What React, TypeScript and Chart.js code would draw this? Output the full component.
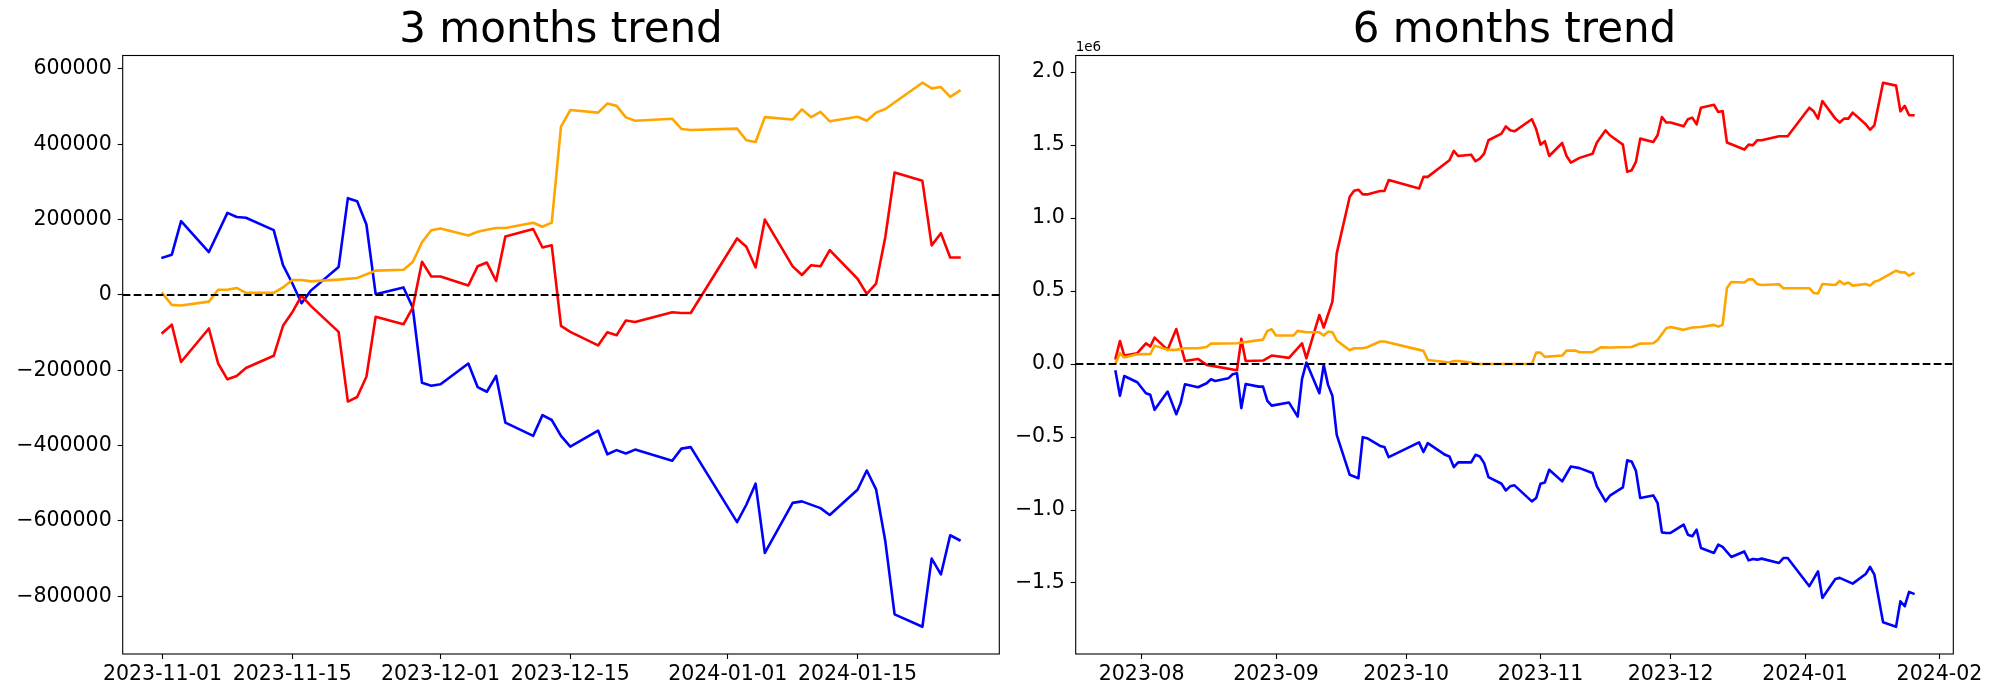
import React, { useEffect, useRef } from "react";
import { Chart, registerables } from "chart.js";

Chart.register(...registerables);

const FONT = "'DejaVu Sans', 'Liberation Sans', sans-serif";

// ---------- text / ticks ----------
const leftTitle = "3 months trend";
const rightTitle = "6 months trend";
const leftXTicks = ["2023-11-01", "2023-11-15", "2023-12-01", "2023-12-15", "2024-01-01", "2024-01-15"];
const leftYTicks = [-800000, -600000, -400000, -200000, 0, 200000, 400000, 600000];
const rightXTicks = ["2023-08", "2023-09", "2023-10", "2023-11", "2023-12", "2024-01", "2024-02"];
const rightYTicks = [-1.5, -1.0, -0.5, 0.0, 0.5, 1.0, 1.5, 2.0];
const rightOffsetLabel = "1e6";

// ---------- 3 months series ----------
const blue3m: [string, number][] = [
  ["2023-11-01", 99000], ["2023-11-02", 107000], ["2023-11-03", 196000], ["2023-11-06", 114000],
  ["2023-11-08", 218000], ["2023-11-09", 207000], ["2023-11-10", 205000], ["2023-11-13", 172000],
  ["2023-11-14", 79000], ["2023-11-15", 31000], ["2023-11-16", -22000], ["2023-11-17", 11500],
  ["2023-11-20", 74000], ["2023-11-21", 257000], ["2023-11-22", 249000], ["2023-11-23", 187000],
  ["2023-11-24", 2000], ["2023-11-27", 20000], ["2023-11-28", -33500], ["2023-11-29", -233000],
  ["2023-11-30", -241000], ["2023-12-01", -237000], ["2023-12-04", -182000], ["2023-12-05", -244500],
  ["2023-12-06", -257000], ["2023-12-07", -215000], ["2023-12-08", -339000], ["2023-12-11", -374000],
  ["2023-12-12", -319000], ["2023-12-13", -332000], ["2023-12-14", -374000], ["2023-12-15", -402500],
  ["2023-12-18", -360000], ["2023-12-19", -423000], ["2023-12-20", -412000], ["2023-12-21", -421000],
  ["2023-12-22", -410500], ["2023-12-26", -440000], ["2023-12-27", -408000], ["2023-12-28", -404000],
  ["2024-01-02", -603000], ["2024-01-03", -557000], ["2024-01-04", -501000], ["2024-01-05", -685000],
  ["2024-01-08", -552000], ["2024-01-09", -548000], ["2024-01-11", -566000], ["2024-01-12", -584000],
  ["2024-01-15", -517000], ["2024-01-16", -466000], ["2024-01-17", -516000], ["2024-01-18", -654000],
  ["2024-01-19", -848000], ["2024-01-22", -881000], ["2024-01-23", -700000], ["2024-01-24", -742000],
  ["2024-01-25", -638000], ["2024-01-26", -651000],
];

const red3m: [string, number][] = [
  ["2023-11-01", -100600], ["2023-11-02", -79000], ["2023-11-03", -178000], ["2023-11-06", -89000],
  ["2023-11-07", -182000], ["2023-11-08", -224000], ["2023-11-09", -215000], ["2023-11-10", -194000],
  ["2023-11-13", -161500], ["2023-11-14", -82000], ["2023-11-15", -46000], ["2023-11-16", -2000],
  ["2023-11-17", -29000], ["2023-11-20", -98000], ["2023-11-21", -283000], ["2023-11-22", -271000],
  ["2023-11-23", -217000], ["2023-11-24", -58000], ["2023-11-27", -77800], ["2023-11-28", -33500],
  ["2023-11-29", 88000], ["2023-11-30", 49000], ["2023-12-01", 49000], ["2023-12-04", 25000],
  ["2023-12-05", 76000], ["2023-12-06", 86000], ["2023-12-07", 37000], ["2023-12-08", 155500],
  ["2023-12-11", 175000], ["2023-12-12", 126000], ["2023-12-13", 132000], ["2023-12-14", -82000],
  ["2023-12-15", -98000], ["2023-12-18", -134000], ["2023-12-19", -99000], ["2023-12-20", -107000],
  ["2023-12-21", -68000], ["2023-12-22", -71600], ["2023-12-26", -46000], ["2023-12-27", -47800],
  ["2023-12-28", -47800], ["2024-01-02", 150000], ["2024-01-03", 128000], ["2024-01-04", 73000],
  ["2024-01-05", 200000], ["2024-01-08", 76000], ["2024-01-09", 53000], ["2024-01-10", 79000],
  ["2024-01-11", 76000], ["2024-01-12", 119000], ["2024-01-15", 43000], ["2024-01-16", 2700],
  ["2024-01-17", 30000], ["2024-01-18", 154000], ["2024-01-19", 325000], ["2024-01-22", 303000],
  ["2024-01-23", 131600], ["2024-01-24", 164000], ["2024-01-25", 99600], ["2024-01-26", 99600],
];

const orange3m: [string, number][] = [
  ["2023-11-01", 4000], ["2023-11-02", -26400], ["2023-11-03", -28000], ["2023-11-06", -17700],
  ["2023-11-07", 14000], ["2023-11-08", 14000], ["2023-11-09", 18600], ["2023-11-10", 5400],
  ["2023-11-13", 5400], ["2023-11-14", 20000], ["2023-11-15", 39600], ["2023-11-16", 39600],
  ["2023-11-17", 36000], ["2023-11-20", 40700], ["2023-11-22", 45000], ["2023-11-24", 64700],
  ["2023-11-27", 67000], ["2023-11-28", 87500], ["2023-11-29", 140000], ["2023-11-30", 172000],
  ["2023-12-01", 176600], ["2023-12-04", 158000], ["2023-12-05", 168000], ["2023-12-06", 173000],
  ["2023-12-07", 177600], ["2023-12-08", 177600], ["2023-12-11", 191700], ["2023-12-12", 181000],
  ["2023-12-13", 192000], ["2023-12-14", 447000], ["2023-12-15", 491000], ["2023-12-18", 484000],
  ["2023-12-19", 508000], ["2023-12-20", 502000], ["2023-12-21", 471500], ["2023-12-22", 462600],
  ["2023-12-26", 468000], ["2023-12-27", 440600], ["2023-12-28", 438000], ["2024-01-02", 441500],
  ["2024-01-03", 410600], ["2024-01-04", 406000], ["2024-01-05", 472000], ["2024-01-08", 466000],
  ["2024-01-09", 492700], ["2024-01-10", 472000], ["2024-01-11", 486000], ["2024-01-12", 461000],
  ["2024-01-15", 473000], ["2024-01-16", 462600], ["2024-01-17", 484000], ["2024-01-18", 493600],
  ["2024-01-22", 563500], ["2024-01-23", 548500], ["2024-01-24", 552000], ["2024-01-25", 526000],
  ["2024-01-26", 542000],
];

// ---------- 6 months series (values in units of 1e6) ----------
const red6m: [string, number][] = [
  ["2023-07-26", 0.039], ["2023-07-27", 0.158], ["2023-07-28", 0.058], ["2023-07-31", 0.074],
  ["2023-08-02", 0.142], ["2023-08-03", 0.12], ["2023-08-04", 0.181], ["2023-08-07", 0.097],
  ["2023-08-09", 0.24], ["2023-08-11", 0.021], ["2023-08-14", 0.035], ["2023-08-16", -0.006],
  ["2023-08-23", -0.043], ["2023-08-24", 0.172], ["2023-08-25", 0.021], ["2023-08-29", 0.024],
  ["2023-08-31", 0.058], ["2023-09-04", 0.042], ["2023-09-07", 0.142], ["2023-09-08", 0.039],
  ["2023-09-11", 0.336], ["2023-09-12", 0.25], ["2023-09-14", 0.427], ["2023-09-15", 0.758],
  ["2023-09-18", 1.146], ["2023-09-19", 1.187], ["2023-09-20", 1.194], ["2023-09-21", 1.162],
  ["2023-09-22", 1.162], ["2023-09-25", 1.185], ["2023-09-26", 1.185], ["2023-09-27", 1.26],
  ["2023-10-04", 1.202], ["2023-10-05", 1.282], ["2023-10-06", 1.282], ["2023-10-11", 1.396],
  ["2023-10-12", 1.46], ["2023-10-13", 1.425], ["2023-10-16", 1.434], ["2023-10-17", 1.389],
  ["2023-10-18", 1.407], ["2023-10-19", 1.441], ["2023-10-20", 1.533], ["2023-10-23", 1.578],
  ["2023-10-24", 1.628], ["2023-10-25", 1.601], ["2023-10-26", 1.594], ["2023-10-30", 1.677],
  ["2023-10-31", 1.609], ["2023-11-01", 1.503], ["2023-11-02", 1.526], ["2023-11-03", 1.425],
  ["2023-11-06", 1.514], ["2023-11-07", 1.425], ["2023-11-08", 1.38], ["2023-11-10", 1.412],
  ["2023-11-13", 1.441], ["2023-11-14", 1.517], ["2023-11-16", 1.601], ["2023-11-17", 1.567],
  ["2023-11-20", 1.503], ["2023-11-21", 1.316], ["2023-11-22", 1.327], ["2023-11-23", 1.384],
  ["2023-11-24", 1.544], ["2023-11-27", 1.521], ["2023-11-28", 1.567], ["2023-11-29", 1.692],
  ["2023-11-30", 1.654], ["2023-12-01", 1.654], ["2023-12-04", 1.628], ["2023-12-05", 1.677],
  ["2023-12-06", 1.688], ["2023-12-07", 1.642], ["2023-12-08", 1.756], ["2023-12-11", 1.776],
  ["2023-12-12", 1.726], ["2023-12-13", 1.733], ["2023-12-14", 1.517], ["2023-12-18", 1.469],
  ["2023-12-19", 1.503], ["2023-12-20", 1.499], ["2023-12-21", 1.533], ["2023-12-22", 1.533],
  ["2023-12-26", 1.56], ["2023-12-28", 1.56], ["2024-01-02", 1.756], ["2024-01-03", 1.731],
  ["2024-01-04", 1.681], ["2024-01-05", 1.802], ["2024-01-08", 1.681], ["2024-01-09", 1.654],
  ["2024-01-10", 1.681], ["2024-01-11", 1.681], ["2024-01-12", 1.722], ["2024-01-15", 1.642],
  ["2024-01-16", 1.605], ["2024-01-17", 1.635], ["2024-01-19", 1.927], ["2024-01-22", 1.907],
  ["2024-01-23", 1.731], ["2024-01-24", 1.768], ["2024-01-25", 1.704], ["2024-01-26", 1.704],
];

const orange6m: [string, number][] = [
  ["2023-07-26", 0.005], ["2023-07-27", 0.074], ["2023-07-28", 0.044], ["2023-07-31", 0.067],
  ["2023-08-02", 0.069], ["2023-08-03", 0.067], ["2023-08-04", 0.126], ["2023-08-07", 0.097],
  ["2023-08-09", 0.097], ["2023-08-11", 0.108], ["2023-08-14", 0.108], ["2023-08-16", 0.117],
  ["2023-08-17", 0.14], ["2023-08-23", 0.142], ["2023-08-29", 0.167], ["2023-08-30", 0.227],
  ["2023-08-31", 0.238], ["2023-09-01", 0.195], ["2023-09-05", 0.195], ["2023-09-06", 0.227],
  ["2023-09-08", 0.218], ["2023-09-11", 0.218], ["2023-09-12", 0.195], ["2023-09-13", 0.222],
  ["2023-09-14", 0.218], ["2023-09-15", 0.161], ["2023-09-18", 0.094], ["2023-09-19", 0.108],
  ["2023-09-21", 0.108], ["2023-09-22", 0.115], ["2023-09-25", 0.154], ["2023-09-26", 0.154],
  ["2023-10-05", 0.09], ["2023-10-06", 0.028], ["2023-10-11", 0.01], ["2023-10-12", 0.021],
  ["2023-10-13", 0.021], ["2023-10-16", 0.01], ["2023-10-17", 0.0], ["2023-10-30", 0.0],
  ["2023-10-31", 0.078], ["2023-11-01", 0.078], ["2023-11-02", 0.049], ["2023-11-06", 0.058],
  ["2023-11-07", 0.092], ["2023-11-09", 0.092], ["2023-11-10", 0.081], ["2023-11-13", 0.081],
  ["2023-11-15", 0.115], ["2023-11-17", 0.113], ["2023-11-22", 0.117], ["2023-11-24", 0.14],
  ["2023-11-27", 0.142], ["2023-11-28", 0.165], ["2023-11-30", 0.245], ["2023-12-01", 0.254],
  ["2023-12-04", 0.234], ["2023-12-06", 0.25], ["2023-12-08", 0.254], ["2023-12-11", 0.268],
  ["2023-12-12", 0.256], ["2023-12-13", 0.268], ["2023-12-14", 0.521], ["2023-12-15", 0.562],
  ["2023-12-18", 0.558], ["2023-12-19", 0.581], ["2023-12-20", 0.58], ["2023-12-21", 0.548],
  ["2023-12-22", 0.541], ["2023-12-26", 0.546], ["2023-12-27", 0.519], ["2024-01-02", 0.519],
  ["2024-01-03", 0.487], ["2024-01-04", 0.483], ["2024-01-05", 0.548], ["2024-01-08", 0.541],
  ["2024-01-09", 0.569], ["2024-01-10", 0.546], ["2024-01-11", 0.558], ["2024-01-12", 0.537],
  ["2024-01-15", 0.548], ["2024-01-16", 0.537], ["2024-01-17", 0.564], ["2024-01-18", 0.573],
  ["2024-01-22", 0.639], ["2024-01-23", 0.628], ["2024-01-24", 0.628], ["2024-01-25", 0.605],
  ["2024-01-26", 0.621],
];

const blue6m: [string, number][] = [
  ["2023-07-26", -0.052], ["2023-07-27", -0.218], ["2023-07-28", -0.082], ["2023-07-31", -0.125],
  ["2023-08-02", -0.2], ["2023-08-03", -0.211], ["2023-08-04", -0.314], ["2023-08-07", -0.189],
  ["2023-08-09", -0.344], ["2023-08-10", -0.268], ["2023-08-11", -0.139], ["2023-08-14", -0.159],
  ["2023-08-16", -0.132], ["2023-08-17", -0.104], ["2023-08-18", -0.116], ["2023-08-21", -0.098],
  ["2023-08-22", -0.07], ["2023-08-23", -0.063], ["2023-08-24", -0.302], ["2023-08-25", -0.137],
  ["2023-08-28", -0.155], ["2023-08-29", -0.155], ["2023-08-30", -0.253], ["2023-08-31", -0.285],
  ["2023-09-04", -0.264], ["2023-09-06", -0.36], ["2023-09-07", -0.102], ["2023-09-08", 0.01],
  ["2023-09-11", -0.2], ["2023-09-12", -0.006], ["2023-09-13", -0.143], ["2023-09-14", -0.218],
  ["2023-09-15", -0.485], ["2023-09-18", -0.759], ["2023-09-20", -0.782], ["2023-09-21", -0.501],
  ["2023-09-22", -0.508], ["2023-09-25", -0.561], ["2023-09-26", -0.569], ["2023-09-27", -0.638],
  ["2023-10-04", -0.537], ["2023-10-05", -0.603], ["2023-10-06", -0.542], ["2023-10-10", -0.622],
  ["2023-10-11", -0.633], ["2023-10-12", -0.706], ["2023-10-13", -0.674], ["2023-10-16", -0.674],
  ["2023-10-17", -0.622], ["2023-10-18", -0.633], ["2023-10-19", -0.679], ["2023-10-20", -0.775],
  ["2023-10-23", -0.82], ["2023-10-24", -0.866], ["2023-10-25", -0.838], ["2023-10-26", -0.831],
  ["2023-10-30", -0.941], ["2023-10-31", -0.918], ["2023-11-01", -0.82], ["2023-11-02", -0.811],
  ["2023-11-03", -0.724], ["2023-11-06", -0.804], ["2023-11-08", -0.702], ["2023-11-10", -0.713],
  ["2023-11-13", -0.747], ["2023-11-14", -0.838], ["2023-11-16", -0.941], ["2023-11-17", -0.902],
  ["2023-11-20", -0.845], ["2023-11-21", -0.66], ["2023-11-22", -0.667], ["2023-11-23", -0.731],
  ["2023-11-24", -0.918], ["2023-11-27", -0.9], ["2023-11-28", -0.952], ["2023-11-29", -1.153],
  ["2023-11-30", -1.157], ["2023-12-01", -1.157], ["2023-12-04", -1.1], ["2023-12-05", -1.169],
  ["2023-12-06", -1.18], ["2023-12-07", -1.135], ["2023-12-08", -1.26], ["2023-12-11", -1.294],
  ["2023-12-12", -1.237], ["2023-12-13", -1.253], ["2023-12-15", -1.322], ["2023-12-18", -1.284],
  ["2023-12-19", -1.345], ["2023-12-20", -1.335], ["2023-12-21", -1.34], ["2023-12-22", -1.333],
  ["2023-12-26", -1.363], ["2023-12-27", -1.329], ["2023-12-28", -1.329], ["2024-01-02", -1.522],
  ["2024-01-04", -1.42], ["2024-01-05", -1.602], ["2024-01-08", -1.472], ["2024-01-09", -1.465],
  ["2024-01-12", -1.504], ["2024-01-15", -1.438], ["2024-01-16", -1.39], ["2024-01-17", -1.443],
  ["2024-01-19", -1.769], ["2024-01-22", -1.8], ["2024-01-23", -1.625], ["2024-01-24", -1.659],
  ["2024-01-25", -1.561], ["2024-01-26", -1.573],
];

const BLUE = "#0000ff";
const RED = "#ff0000";
const ORANGE = "#ffa500";

// ---------- helpers ----------
const dayNum = (s: string): number => {
  const p = s.split("-").map(Number);
  return Date.UTC(p[0], (p[1] || 1) - 1, p[2] || 1) / 86400000;
};

const withMargins = (vals: number[]): [number, number] => {
  const lo = Math.min(...vals);
  const hi = Math.max(...vals);
  const m = (hi - lo) * 0.05;
  return [lo - m, hi + m];
};

const minusify = (s: string) => s.replace("-", "\u2212");

type SeriesDef = { points: [string, number][]; color: string; order: number };

type PanelProps = {
  left: number;
  width: number;
  yAxisWidth: number;
  padRight: number;
  title: string;
  series: SeriesDef[];
  xTicks: string[];
  yTicks: number[];
  yFormat: (v: number) => string;
  offsetLabel?: string;
};

const TICK_FONT = { family: FONT, size: 20.5, lineHeight: 1.2 };

function Panel(props: PanelProps) {
  const ref = useRef<HTMLCanvasElement | null>(null);

  useEffect(() => {
    const canvas = ref.current;
    if (!canvas) return;
    const allX = props.series.flatMap((s) => s.points.map((p) => dayNum(p[0])));
    const allY = props.series.flatMap((s) => s.points.map((p) => p[1]));
    const [xMin, xMax] = withMargins(allX);
    const [yMin, yMax] = withMargins(allY);
    const xTickVals = props.xTicks.map(dayNum);

    const framePlugin = {
      id: "mplFrame",
      afterDatasetsDraw(chart: any) {
        const { ctx, chartArea, scales } = chart;
        ctx.save();
        // zero reference line (dashed)
        const y0 = scales.y.getPixelForValue(0);
        ctx.beginPath();
        ctx.setLineDash([7.7, 3.3]);
        ctx.lineWidth = 2.08;
        ctx.strokeStyle = "#000";
        ctx.moveTo(chartArea.left, y0);
        ctx.lineTo(chartArea.right, y0);
        ctx.stroke();
        ctx.setLineDash([]);
        // spines
        ctx.lineWidth = 1.1;
        ctx.strokeStyle = "#000";
        ctx.strokeRect(chartArea.left, chartArea.top, chartArea.right - chartArea.left, chartArea.bottom - chartArea.top);
        // offset text
        if (props.offsetLabel) {
          ctx.fillStyle = "#000";
          ctx.font = `13.5px ${FONT}`;
          ctx.textAlign = "left";
          ctx.textBaseline = "alphabetic";
          ctx.fillText(props.offsetLabel, chartArea.left, chartArea.top - 4.5);
        }
        ctx.restore();
      },
    };

    const chart = new Chart(canvas, {
      type: "line",
      data: {
        datasets: props.series.map((s) => ({
          data: s.points.map(([d, v]) => ({ x: dayNum(d), y: v })),
          borderColor: s.color,
          backgroundColor: s.color,
          borderWidth: 2.6,
          pointRadius: 0,
          pointHoverRadius: 0,
          tension: 0,
          fill: false,
          borderJoinStyle: "round",
          borderCapStyle: "square",
          order: s.order,
        })),
      },
      options: {
        responsive: false,
        animation: false,
        devicePixelRatio: 1,
        events: [],
        layout: { padding: { left: 0, right: props.padRight, top: 0, bottom: 0 } },
        plugins: {
          legend: { display: false },
          tooltip: { enabled: false },
          title: {
            display: true,
            fullSize: false,
            text: props.title,
            color: "#000",
            font: { family: FONT, size: 42, weight: "normal", lineHeight: 1 },
            padding: { top: 10, bottom: 3.5 },
          },
        },
        scales: {
          x: {
            type: "linear",
            min: xMin,
            max: xMax,
            afterBuildTicks: (scale: any) => {
              scale.ticks = xTickVals.map((v) => ({ value: v }));
            },
            afterFit: (scale: any) => {
              scale.height = 46;
            },
            ticks: {
              autoSkip: false,
              maxRotation: 0,
              minRotation: 0,
              color: "#000",
              font: TICK_FONT,
              padding: 3,
              callback: (_v: any, i: number) => props.xTicks[i],
            },
            grid: {
              display: true,
              drawOnChartArea: false,
              drawTicks: true,
              tickLength: 5,
              tickWidth: 1.1,
              tickColor: "#000",
            },
            border: { display: false },
          },
          y: {
            type: "linear",
            min: yMin,
            max: yMax,
            afterBuildTicks: (scale: any) => {
              scale.ticks = props.yTicks.map((v) => ({ value: v }));
            },
            afterFit: (scale: any) => {
              scale.width = props.yAxisWidth;
            },
            ticks: {
              autoSkip: false,
              color: "#000",
              font: TICK_FONT,
              padding: 6,
              callback: (v: any) => props.yFormat(Number(v)),
            },
            grid: {
              display: true,
              drawOnChartArea: false,
              drawTicks: true,
              tickLength: 5,
              tickWidth: 1.1,
              tickColor: "#000",
            },
            border: { display: false },
          },
        },
      } as any,
      plugins: [framePlugin],
    });
    return () => chart.destroy();
  }, []);

  return (
    <canvas
      ref={ref}
      width={props.width}
      height={700}
      style={{ position: "absolute", left: props.left, top: 0, width: props.width, height: 700 }}
    />
  );
}

export default function App() {
  return (
    <div style={{ position: "absolute", left: 0, top: 0, width: 2000, height: 700, background: "#fff", overflow: "hidden" }}>
      <Panel
        left={0}
        width={1005}
        yAxisWidth={122.7}
        padRight={5.7}
        title={leftTitle}
        series={[
          { points: blue3m, color: BLUE, order: 3 },
          { points: red3m, color: RED, order: 2 },
          { points: orange3m, color: ORANGE, order: 1 },
        ]}
        xTicks={leftXTicks}
        yTicks={leftYTicks}
        yFormat={(v) => minusify(String(v))}
      />
      <Panel
        left={1005}
        width={995}
        yAxisWidth={70.7}
        padRight={46.7}
        title={rightTitle}
        series={[
          { points: blue6m, color: BLUE, order: 3 },
          { points: red6m, color: RED, order: 2 },
          { points: orange6m, color: ORANGE, order: 1 },
        ]}
        xTicks={rightXTicks}
        yTicks={rightYTicks}
        yFormat={(v) => minusify(v.toFixed(1))}
        offsetLabel={rightOffsetLabel}
      />
    </div>
  );
}
